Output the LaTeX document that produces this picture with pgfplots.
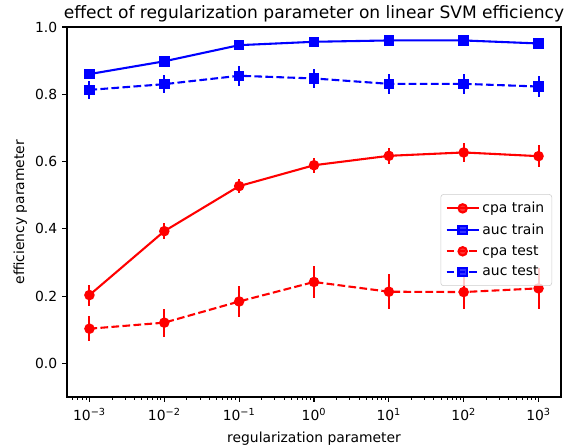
\documentclass[border=0pt]{standalone}
\usepackage{pgfplots}
\pgfplotsset{compat=1.18}
\usepackage{fontspec}
\setmainfont{DejaVu Sans}
\begin{document}
\begin{tikzpicture}
\useasboundingbox (-48.24pt,-36.72pt) rectangle (358.56pt,285.84pt);
\begin{axis}[
  scale only axis, width=355.68pt, height=266.4pt,
  at={(0pt,0pt)}, anchor=south west,
  xmode=log,
  xmin=5.0119e-4, xmax=1995.26, ymin=-0.1, ymax=1.0,
  axis line style={line width=0.8pt},
  tick pos=left, tick align=outside,
  major tick length=3.5pt, minor tick length=2pt,
  every tick/.style={black, line width=0.8pt},
  every minor tick/.style={black, line width=0.6pt},
  xtick={1e-3,1e-2,1e-1,1,10,100,1000},
  xticklabels={10\textsuperscript{−3},10\textsuperscript{−2},10\textsuperscript{−1},10\textsuperscript{0},10\textsuperscript{1},10\textsuperscript{2},10\textsuperscript{3}},
  minor xtick={6e-4,7e-4,8e-4,9e-4,2e-3,3e-3,4e-3,5e-3,6e-3,7e-3,8e-3,9e-3,2e-2,3e-2,4e-2,5e-2,6e-2,7e-2,8e-2,9e-2,0.2,0.3,0.4,0.5,0.6,0.7,0.8,0.9,2,3,4,5,6,7,8,9,20,30,40,50,60,70,80,90,200,300,400,500,600,700,800,900},
  ytick={0,0.2,0.4,0.6,0.8,1.0},
  yticklabels={0.0,0.2,0.4,0.6,0.8,1.0},
  ticklabel style={font=\fontsize{10pt}{12pt}\selectfont},
  xticklabel style={yshift=-1pt},
  title={effect of regularization parameter on linear SVM efficiency},
  title style={font=\fontsize{12.3pt}{14pt}\selectfont, yshift=-6pt},
  xlabel={regularization parameter},
  ylabel={efficiency parameter},
  xlabel style={yshift=-1.5pt},
  ylabel style={yshift=-1pt},
  label style={font=\fontsize{10pt}{12pt}\selectfont},
  legend style={at={(0.982,0.30)}, anchor=south east, font=\fontsize{10pt}{12pt}\selectfont,
    draw=black!20, rounded corners=2pt, fill=white, fill opacity=0.8, text opacity=1, draw opacity=1,
    row sep=2.5pt, inner sep=3.5pt},
  legend cell align=left,
  legend image code/.code={\draw[mark repeat=2,mark phase=2] plot coordinates {(0pt,0pt)(11.5pt,0pt)(23pt,0pt)};},
  every axis plot/.append style={line width=1.5pt},
  error bars/error bar style={line width=1.5pt, solid},
]
\addplot[red, mark=*, mark size=3pt, mark options={solid, fill=red},
  error bars/.cd, y dir=both, y explicit, error mark=none]
  coordinates {
  (1e-3,0.203) +- (0,0.031)
  (1e-2,0.393) +- (0,0.023)
  (1e-1,0.527) +- (0,0.021)
  (1,0.589) +- (0,0.023)
  (10,0.617) +- (0,0.024)
  (100,0.627) +- (0,0.028)
  (1000,0.616) +- (0,0.032)
  };
\addlegendentry{cpa train}
\addplot[blue, mark=square*, mark size=3pt, mark options={solid, fill=blue},
  error bars/.cd, y dir=both, y explicit, error mark=none]
  coordinates {
  (1e-3,0.860) +- (0,0.004)
  (1e-2,0.898) +- (0,0.004)
  (1e-1,0.946) +- (0,0.004)
  (1,0.956) +- (0,0.004)
  (10,0.960) +- (0,0.004)
  (100,0.960) +- (0,0.004)
  (1000,0.951) +- (0,0.004)
  };
\addlegendentry{auc train}
\addplot[red, dash pattern=on 5.55pt off 2.4pt, mark=*, mark size=3pt, mark options={solid, fill=red},
  error bars/.cd, y dir=both, y explicit, error mark=none]
  coordinates {
  (1e-3,0.103) +- (0,0.038)
  (1e-2,0.121) +- (0,0.042)
  (1e-1,0.184) +- (0,0.046)
  (1,0.242) +- (0,0.048)
  (10,0.213) +- (0,0.052)
  (100,0.212) +- (0,0.051)
  (1000,0.223) +- (0,0.060)
  };
\addlegendentry{cpa test}
\addplot[blue, dash pattern=on 5.55pt off 2.4pt, mark=square*, mark size=3pt, mark options={solid, fill=blue},
  error bars/.cd, y dir=both, y explicit, error mark=none]
  coordinates {
  (1e-3,0.813) +- (0,0.026)
  (1e-2,0.830) +- (0,0.027)
  (1e-1,0.855) +- (0,0.029)
  (1,0.847) +- (0,0.027)
  (10,0.831) +- (0,0.029)
  (100,0.831) +- (0,0.029)
  (1000,0.823) +- (0,0.031)
  };
\addlegendentry{auc test}
\end{axis}
\end{tikzpicture}
\end{document}
